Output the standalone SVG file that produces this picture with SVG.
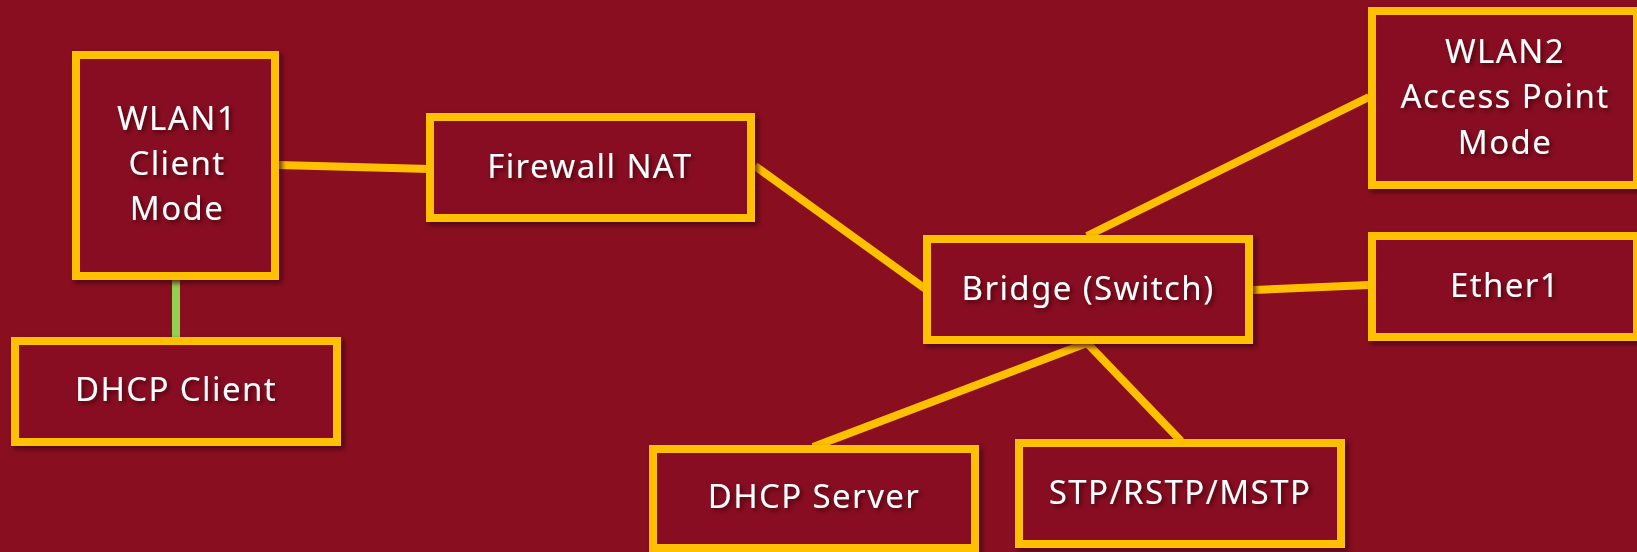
<svg xmlns="http://www.w3.org/2000/svg" width="1637" height="552" viewBox="0 0 1637 552">
<defs>
<filter id="sh" x="-10%" y="-10%" width="130%" height="130%">
<feDropShadow dx="3" dy="3" stdDeviation="2.5" flood-color="#3a0008" flood-opacity="0.75"/>
</filter>
<filter id="tsh" x="-10%" y="-20%" width="130%" height="150%">
<feDropShadow dx="2.5" dy="2.5" stdDeviation="2" flood-color="#3a0008" flood-opacity="0.8"/>
</filter>
<style>
.box{fill:#880E20;stroke:#FFC000;stroke-width:8;filter:url(#sh)}
.lbl{font-family:"Noto Sans","DejaVu Sans",sans-serif;font-size:33px;fill:#FFFFFF;text-anchor:middle;letter-spacing:1.4px;filter:url(#tsh)}
.c{stroke:#FFC000;stroke-width:8;fill:none}
.g{stroke:#92D050;stroke-width:8;fill:none}
</style>
</defs>
<rect width="1637" height="552" fill="#880E20"/>
<g id="connectors">
<line class="c" x1="278" y1="165" x2="430" y2="169"/>
<line class="g" x1="176" y1="277" x2="176" y2="341"/>
<line class="c" x1="755" y1="166" x2="927" y2="290"/>
<line class="c" x1="1087" y1="236" x2="1369" y2="97"/>
<line class="c" x1="1253" y1="290" x2="1369" y2="285"/>
<line class="c" x1="1087" y1="343" x2="813" y2="447"/>
<line class="c" x1="1087" y1="343" x2="1181" y2="441"/>
</g>
<g id="wlan1">
<rect class="box" x="76" y="55" width="199" height="221"/>
<text class="lbl" x="177" y="130">WLAN1</text>
<text class="lbl" x="177" y="175">Client</text>
<text class="lbl" x="177" y="220">Mode</text>
</g>
<g id="dhcp-client">
<rect class="box" x="15" y="341" width="322" height="101"/>
<text class="lbl" x="176" y="401">DHCP Client</text>
</g>
<g id="firewall">
<rect class="box" x="430" y="117" width="321" height="101"/>
<text class="lbl" x="590" y="178">Firewall NAT</text>
</g>
<g id="bridge">
<rect class="box" x="927" y="239" width="322" height="101"/>
<text class="lbl" x="1088" y="300">Bridge (Switch)</text>
</g>
<g id="wlan2">
<rect class="box" x="1372" y="11" width="265" height="174"/>
<text class="lbl" x="1505" y="63">WLAN2</text>
<text class="lbl" x="1505" y="108">Access Point</text>
<text class="lbl" x="1505" y="154">Mode</text>
</g>
<g id="ether1">
<rect class="box" x="1372" y="236" width="265" height="101"/>
<text class="lbl" x="1505" y="297">Ether1</text>
</g>
<g id="dhcp-server">
<rect class="box" x="653" y="449" width="322" height="99"/>
<text class="lbl" x="814" y="508">DHCP Server</text>
</g>
<g id="stp">
<rect class="box" x="1019" y="443" width="322" height="101"/>
<text class="lbl" x="1180" y="504">STP/RSTP/MSTP</text>
</g>
</svg>
